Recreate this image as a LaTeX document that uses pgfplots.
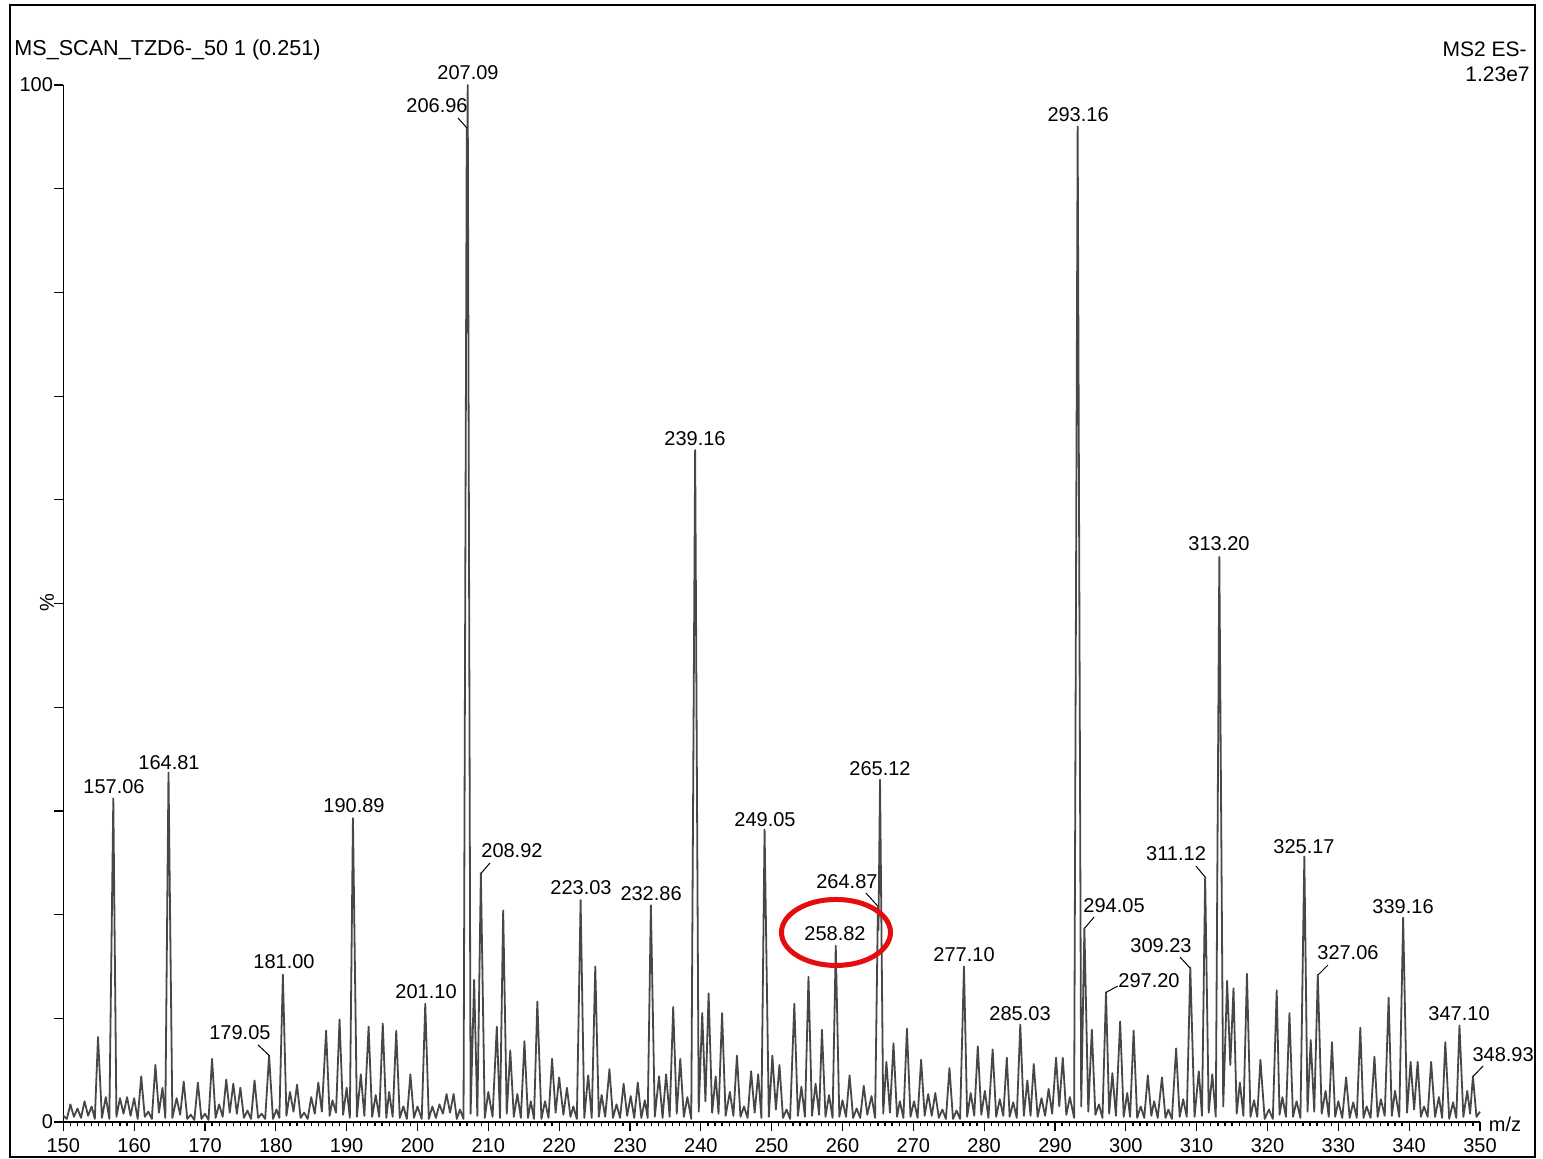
\documentclass[border=0pt]{standalone}
\usepackage{fontspec}
\setmainfont{Liberation Sans}
\usepackage{pgfplots}
\pgfplotsset{compat=1.18}
\definecolor{ered}{RGB}{228,12,12}
\tikzset{lab/.style={inner sep=0, font=\fontsize{10}{12}\selectfont}}
\begin{document}
\fontsize{10}{12}\selectfont
\begin{tikzpicture}
\useasboundingbox (0,0) rectangle (771.5pt,-579pt);
\draw[line width=0.75pt] (5pt,-2.5pt) rectangle (767.5pt,-578.5pt);
\node[anchor=west,inner sep=0,font=\fontsize{10.8}{13}\selectfont] at (7pt,-25pt) {MS\_SCAN\_TZD6-\_50 1 (0.251)};
\node[anchor=east,inner sep=0,font=\fontsize{10.5}{13}\selectfont] at (763.5pt,-24.5pt) {MS2 ES-};
\node[anchor=east,inner sep=0,font=\fontsize{10.5}{13}\selectfont] at (765pt,-37pt) {1.23e7};
\begin{axis}[at={(31.65pt,-561pt)}, anchor=south west, scale only axis,
  width=708.35pt, height=518.5pt,
  xmin=150, xmax=350, ymin=0, ymax=100,
  axis x line*=bottom, axis y line*=left,
  axis line style={-, line width=0.8pt},
  tick align=outside,
  xtick={150,160,...,350}, minor x tick num=9,
  ytick={0,10,...,100}, yticklabels={0,,,,,,,,,,100},
  major tick length=4.5pt, minor tick length=2.2pt,
  tick style={line width=0.6pt, black},
  yticklabel style={inner xsep=0.5pt},
  /pgf/number format/assume math mode=true,
  ticklabel style={font=\fontsize{10}{12}\selectfont},
  clip=false,
  ]
\addplot[black!72, line width=0.9pt, line join=round] coordinates {
(150.0,0.6)(150.5,0.3)(151.0,1.7)(151.5,0.5)(152.0,1.3)(152.5,0.4)(153.0,2.0)(153.5,0.6)(154.0,1.5)(154.45,0.3)
(154.9,8.2)(155.45,0.4)(156.0,2.4)(156.5,0.3)(157.06,31.2)(157.5,0.5)(158.0,2.3)(158.5,0.8)(159.0,2.4)(159.5,0.6)
(160.0,2.3)(160.5,0.3)(161.0,4.4)(161.5,0.5)(162.0,1.0)(162.5,0.3)(163.0,5.5)(163.5,0.9)(164.0,3.3)(164.4,0.4)
(164.85,33.7)(165.4,0.4)(166.0,2.3)(166.5,0.7)(167.0,3.9)(167.5,0.3)(168.0,0.7)(168.5,0.2)(169.0,3.8)(169.5,0.3)
(170.0,0.8)(170.5,0.2)(171.0,6.1)(171.5,0.4)(172.0,1.7)(172.5,0.5)(173.0,4.1)(173.5,0.9)(174.0,3.7)(174.5,0.8)
(175.0,3.3)(175.5,0.4)(176.0,1.1)(176.5,0.3)(177.0,4.0)(177.5,0.4)(178.0,0.8)(178.5,0.3)(179.05,6.4)(179.6,0.3)
(180.1,1.2)(180.5,0.4)(181.0,14.2)(181.5,0.6)(182.0,2.9)(182.5,1.0)(183.0,3.6)(183.5,0.4)(184.0,0.9)(184.5,0.3)
(185.0,2.4)(185.5,0.8)(186.0,3.8)(186.5,1.0)(187.1,8.8)(187.6,0.6)(188.0,2.1)(188.5,0.9)(189.0,9.9)(189.5,0.7)
(190.0,3.3)(190.45,0.4)(190.89,29.3)(191.45,0.5)(192.0,4.6)(192.5,0.6)(193.1,9.2)(193.6,0.5)(194.1,2.6)(194.6,0.5)
(195.1,9.5)(195.6,0.4)(196.0,2.9)(196.5,0.5)(197.0,8.8)(197.5,0.4)(198.0,1.5)(198.5,0.3)(199.0,4.6)(199.5,0.4)
(200.0,1.5)(200.6,0.3)(201.1,11.4)(201.6,0.3)(202.1,1.5)(202.6,0.4)(203.1,1.7)(203.6,0.8)(204.1,2.7)(204.6,0.9)
(205.1,2.7)(205.55,0.3)(206.0,1.2)(206.5,0.3)(206.96,95.9)(207.02,93.0)(207.09,100)(207.5,0.8)(208.0,13.7)(208.45,0.6)
(208.95,24.0)(209.5,0.4)(210.0,2.9)(210.6,0.5)(211.2,9.2)(211.65,0.4)(212.1,20.4)(212.6,0.8)(213.1,6.9)(213.6,0.5)
(214.1,2.7)(214.6,0.4)(215.1,7.8)(215.6,0.4)(216.0,2.0)(216.45,0.3)(216.92,11.6)(217.5,0.3)(218.0,2.0)(218.5,0.4)
(219.0,6.1)(219.5,0.9)(220.0,4.3)(220.6,0.7)(221.1,3.3)(221.6,0.5)(222.0,1.5)(222.5,0.3)(223.03,21.4)(223.55,0.4)
(224.1,4.5)(224.6,0.4)(225.1,15.0)(225.6,0.5)(226.0,2.6)(226.5,0.5)(227.1,5.1)(227.6,0.4)(228.1,1.7)(228.6,0.4)
(229.1,3.7)(229.6,0.6)(230.1,2.5)(230.6,0.4)(231.1,3.8)(231.6,0.4)(232.1,2.1)(232.5,0.4)(232.95,20.9)(233.5,0.5)
(234.1,4.4)(234.6,0.4)(235.1,4.6)(235.6,0.5)(236.1,11.1)(236.6,0.8)(237.1,6.1)(237.6,0.5)(238.1,2.4)(238.65,0.3)
(239.2,64.8)(239.7,1.0)(240.2,10.5)(240.65,2.0)(241.1,12.4)(241.6,0.9)(242.1,4.4)(242.5,0.8)(243.0,10.5)(243.5,0.6)
(244.1,2.9)(244.6,0.6)(245.1,6.4)(245.6,0.5)(246.1,1.5)(246.6,0.4)(247.1,4.9)(247.6,0.9)(248.1,4.6)(248.55,0.4)
(249.0,28.2)(249.6,0.5)(250.1,6.4)(250.6,1.2)(251.1,5.5)(251.6,0.4)(252.1,1.2)(252.6,0.3)(253.2,11.4)(253.7,0.6)
(254.2,3.4)(254.7,0.5)(255.2,14.0)(255.7,0.6)(256.2,3.7)(256.7,0.7)(257.1,8.9)(257.6,0.5)(258.1,2.6)(258.6,0.4)
(259.05,17.0)(259.55,0.5)(260.0,2.1)(260.5,0.5)(261.0,4.5)(261.5,0.4)(262.0,1.3)(262.5,0.4)(263.0,3.5)(263.5,0.7)
(264.1,2.5)(264.6,0.4)(265.0,20.7)(265.08,18.5)(265.3,33.0)(265.75,0.8)(266.2,5.8)(266.7,0.9)(267.2,7.6)(267.7,0.5)
(268.1,2.0)(268.6,0.4)(269.1,9.0)(269.6,0.5)(270.1,2.0)(270.6,0.4)(271.1,6.0)(271.6,0.6)(272.1,2.7)(272.6,0.6)
(273.1,2.8)(273.6,0.4)(274.1,1.2)(274.6,0.3)(275.1,5.2)(275.6,0.3)(276.1,1.1)(276.6,0.3)(277.15,15.0)(277.6,0.5)
(278.1,2.8)(278.6,0.6)(279.1,7.3)(279.6,0.7)(280.1,3.0)(280.6,0.4)(281.2,7.0)(281.7,0.5)(282.2,2.2)(282.7,0.6)
(283.2,6.2)(283.6,0.5)(284.1,1.9)(284.6,0.4)(285.1,9.4)(285.6,0.6)(286.1,4.0)(286.55,0.6)(287.0,5.6)(287.55,0.5)
(288.1,2.3)(288.6,0.6)(289.1,3.2)(289.6,0.8)(290.15,6.2)(290.6,1.5)(291.1,6.2)(291.6,0.7)(292.1,2.4)(292.7,0.4)
(293.2,96.0)(293.7,1.5)(294.15,18.7)(294.7,1.0)(295.2,8.9)(295.7,0.7)(296.2,1.7)(296.7,0.4)(297.2,12.5)(297.65,0.8)
(298.1,4.7)(298.6,0.6)(299.2,9.7)(299.7,0.5)(300.2,2.8)(300.6,0.5)(301.1,8.8)(301.6,0.4)(302.1,1.5)(302.6,0.4)
(303.1,4.5)(303.6,0.6)(304.0,2.0)(304.5,0.4)(305.1,4.3)(305.6,0.4)(306.0,1.2)(306.5,0.3)(307.1,7.1)(307.6,0.5)
(308.1,2.2)(308.6,0.5)(309.1,14.9)(309.7,0.5)(310.3,4.9)(310.75,0.6)(311.2,23.6)(311.7,0.9)(312.2,4.6)(312.7,0.5)
(313.2,54.5)(313.75,1.5)(314.3,13.6)(314.75,5.5)(315.2,12.9)(315.65,0.8)(316.1,3.8)(316.6,0.6)(317.1,14.3)(317.6,0.5)
(318.1,2.1)(318.55,0.5)(319.0,6.0)(319.6,0.3)(320.2,1.2)(320.75,0.3)(321.3,12.7)(321.7,0.7)(322.1,2.4)(322.6,0.5)
(323.1,10.5)(323.6,0.5)(324.1,2.0)(324.65,0.4)(325.2,25.6)(325.65,1.0)(326.1,7.9)(326.6,1.0)(327.1,14.2)(327.65,0.8)
(328.2,3.0)(328.65,0.5)(329.1,7.7)(329.55,0.5)(330.0,2.0)(330.55,0.4)(331.1,4.3)(331.6,0.4)(332.1,1.9)(332.6,0.4)
(333.1,9.1)(333.55,0.4)(334.0,1.5)(334.55,0.4)(335.1,6.3)(335.55,0.5)(336.0,2.2)(336.55,0.6)(337.1,12.0)(337.55,0.6)
(338.0,3.0)(338.6,0.5)(339.15,19.7)(339.7,0.9)(340.2,5.8)(340.7,1.2)(341.2,5.8)(341.65,0.5)(342.1,1.5)(342.6,0.5)
(343.1,5.8)(343.65,0.5)(344.2,2.4)(344.65,0.4)(345.1,7.7)(345.65,0.3)(346.2,1.9)(346.65,0.4)(347.1,9.3)(347.65,0.5)
(348.2,3.0)(348.6,0.8)(349.0,4.4)(349.5,0.5)(350.0,1.0)
};
% peak labels
\node[lab] at (axis cs:157.16,32.3) {157.06};
\node[lab] at (axis cs:164.92,34.7) {164.81};
\node[lab] at (axis cs:174.94,8.58) {179.05};
\draw[line width=0.5pt] (axis cs:177.49,7.43) -- (axis cs:179.1,6.4);
\node[lab] at (axis cs:181.16,15.43) {181.00};
\node[lab] at (axis cs:191.04,30.47) {190.89};
\node[lab] at (axis cs:201.21,12.54) {201.10};
\node[lab] at (axis cs:202.76,97.97) {206.96};
\draw[line width=0.5pt] (axis cs:205.72,96.82) -- (axis cs:206.99,95.85);
\node[lab] at (axis cs:207.13,101.16) {207.09};
\node[lab] at (axis cs:213.34,26.13) {208.92};
\draw[line width=0.5pt] (axis cs:210.23,24.98) -- (axis cs:209.0,24.0);
\node[lab] at (axis cs:223.09,22.57) {223.03};
\node[lab] at (axis cs:232.98,21.99) {232.86};
\node[lab] at (axis cs:239.18,65.86) {239.16};
\node[lab] at (axis cs:249.06,29.12) {249.05};
\node[lab] at (axis cs:258.94,18.13) {258.82};
\node[lab] at (axis cs:260.63,23.14) {264.87};
\draw[line width=0.5pt] (axis cs:263.31,22.08) -- (axis cs:265.01,20.8);
\node[lab] at (axis cs:265.30,34.04) {265.12};
\node[lab] at (axis cs:277.16,16.10) {277.10};
\node[lab] at (axis cs:285.07,10.41) {285.03};
\node[lab] at (axis cs:293.26,97.11) {293.16};
\node[lab] at (axis cs:298.34,20.83) {294.05};
\draw[line width=0.5pt] (axis cs:295.52,19.77) -- (axis cs:294.2,18.7);
\node[lab] at (axis cs:303.27,13.60) {297.20};
\draw[line width=0.5pt] (axis cs:298.86,13.11) -- (axis cs:297.2,12.5);
\node[lab] at (axis cs:304.97,16.97) {309.23};
\draw[line width=0.5pt] (axis cs:307.65,15.91) -- (axis cs:309.06,14.85);
\node[lab] at (axis cs:307.09,25.84) {311.12};
\draw[line width=0.5pt] (axis cs:309.91,24.68) -- (axis cs:311.18,23.63);
\node[lab] at (axis cs:313.15,55.74) {313.20};
\node[lab] at (axis cs:325.15,26.52) {325.17};
\node[lab] at (axis cs:331.36,16.30) {327.06};
\draw[line width=0.5pt] (axis cs:328.54,15.14) -- (axis cs:327.13,14.18);
\node[lab] at (axis cs:339.14,20.73) {339.16};
\node[lab] at (axis cs:347.04,10.41) {347.10};
\node[lab] at (axis cs:353.26,6.46) {348.93};
\draw[line width=0.5pt] (axis cs:350.43,5.40) -- (axis cs:349.02,4.4);
\node[lab] at (axis cs:353.53,-0.19) {m/z};
\node[lab, rotate=90] at (axis cs:147.7,50.05) {\%};
\coordinate (E) at (axis cs:259.08,18.28);
\end{axis}
\draw[ered, line width=2.5pt] (E) ellipse [x radius=27.25pt, y radius=16.5pt];
\end{tikzpicture}
\end{document}
